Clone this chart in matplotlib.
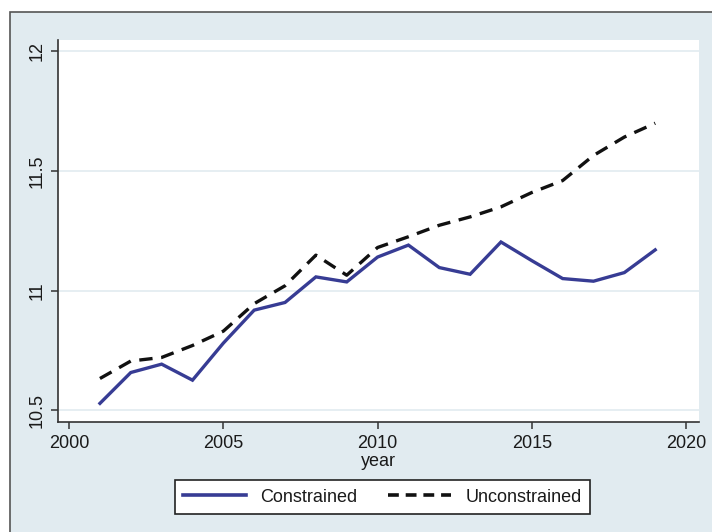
import matplotlib
matplotlib.use("Agg")
import matplotlib.pyplot as plt
from matplotlib.patches import Rectangle
from matplotlib.lines import Line2D

years = list(range(2001, 2020))
constrained = [10.528, 10.657, 10.692, 10.625, 10.78, 10.918, 10.95, 11.057, 11.036,
               11.14, 11.19, 11.096, 11.068, 11.203, 11.125, 11.05, 11.039, 11.075, 11.17]
unconstrained = [10.632, 10.705, 10.72, 10.77, 10.83, 10.945, 11.02, 11.148, 11.064,
                 11.18, 11.225, 11.273, 11.308, 11.35, 11.41, 11.46, 11.565, 11.642, 11.70]
xticks = [2000, 2005, 2010, 2015, 2020]
yticks = [10.5, 11, 11.5, 12]
ytick_labels = ["10.5", "11", "11.5", "12"]
labels = ["Constrained", "Unconstrained"]

plt.rcParams['font.family'] = ['Liberation Sans', 'DejaVu Sans']
FS = 13
BG = '#e1ebf0'
NAVY = '#373c94'
TXT = '#1a1a1a'

W, H = 712, 532
fig = plt.figure(figsize=(W / 100, H / 100), dpi=100, facecolor='white')
bgax = fig.add_axes([0, 0, 1, 1], zorder=-10)
bgax.set_axis_off()
bgax.set_xlim(0, W)
bgax.set_ylim(H, 0)
bgax.add_patch(Rectangle((10, 12), W + 20, H + 20, facecolor=BG,
                         edgecolor='#555555', linewidth=1.2))

ax = fig.add_axes([58 / W, (H - 422) / H, (699 - 58) / W, (422 - 40) / H])
ax.set_facecolor('white')
ax.plot(years, constrained, color=NAVY, lw=2.4, solid_joinstyle='miter')
ax.plot(years, unconstrained, color='#111111', lw=2.4, ls=(0, (4, 2.6)))

ax.set_xlim(1999.64, 2020.42)
ax.set_ylim(10.45, 12.048)
ax.set_xticks(xticks)
ax.set_xticklabels([str(x) for x in xticks], fontsize=FS, color=TXT)
ax.set_yticks(yticks)
ax.set_yticklabels(ytick_labels, fontsize=FS, rotation=90, va='center', color=TXT)
ax.grid(axis='y', color='#e4edf1', lw=1.3)
ax.set_axisbelow(True)
for s in ['top', 'right']:
    ax.spines[s].set_visible(False)
for s in ['left', 'bottom']:
    ax.spines[s].set_color('#333333')
    ax.spines[s].set_linewidth(1.2)
ax.tick_params(direction='out', length=5, width=1.1, color='#333333', pad=4)
ax.set_xlabel('year', fontsize=FS, color=TXT, labelpad=1)

handles = [Line2D([], [], color=NAVY, lw=2.6),
           Line2D([], [], color='#111111', lw=2.6, ls=(0, (3, 1.9)))]
leg = fig.legend(handles, labels, loc='center',
                 bbox_to_anchor=((175 + 590) / 2 / W, 1 - 497 / H),
                 ncol=2, fontsize=FS, frameon=True, fancybox=False,
                 edgecolor='#222222', facecolor='white', handlelength=3.5,
                 columnspacing=1.7, handletextpad=0.8, borderpad=0.45)
for t in leg.get_texts():
    t.set_color(TXT)
leg.get_frame().set_linewidth(1.2)
leg.get_frame().set_alpha(1)

fig.savefig('out.png', dpi=100, facecolor=fig.get_facecolor())
